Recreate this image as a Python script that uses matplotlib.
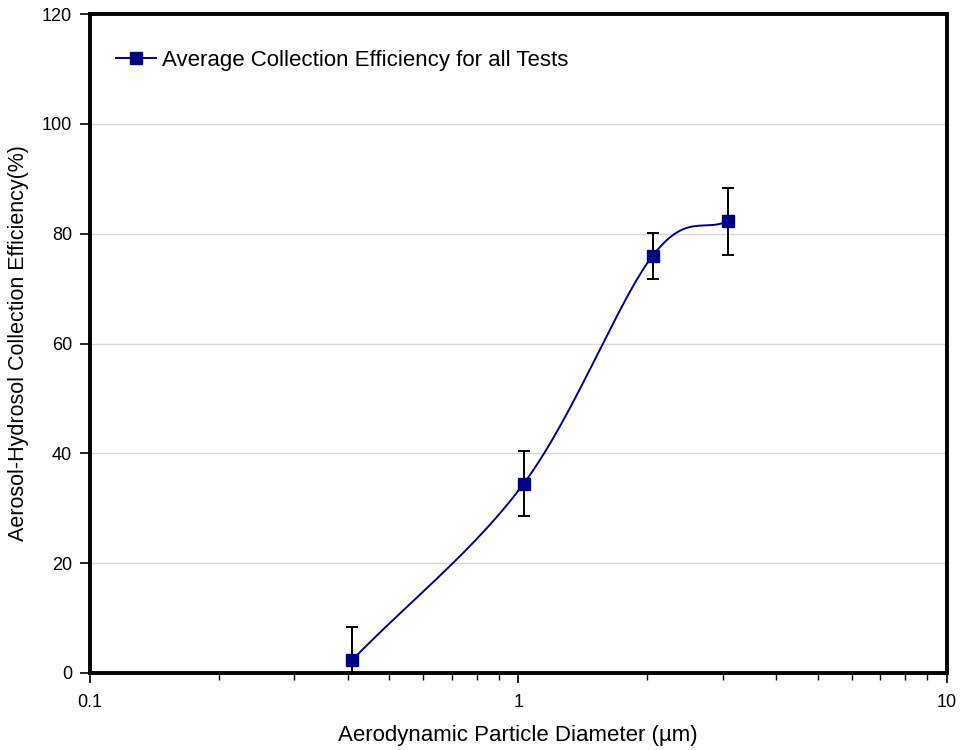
import numpy as np
import matplotlib.pyplot as plt
from matplotlib.ticker import LogLocator, FixedLocator, NullFormatter

plt.rcParams['font.family'] = ['Liberation Sans', 'DejaVu Sans']

# averaged collection efficiency per particle size
diameter_um = [0.41, 1.03, 2.06, 3.09]
efficiency_pct = [2.4, 34.5, 76.0, 82.3]
efficiency_err = [6.0, 6.0, 4.2, 6.1]

NAVY = '#000080'


def smooth_curve(x, y, n=60):
    """Catmull-Rom spline through the points, evaluated in log10(x) space."""
    lx = np.log10(x)
    px = np.concatenate([[2 * lx[0] - lx[1]], lx, [2 * lx[-1] - lx[-2]]])
    py = np.concatenate([[2 * y[0] - y[1]], y, [2 * y[-1] - y[-2]]])
    xs, ys = [], []
    for i in range(1, len(px) - 2):
        t = np.linspace(0, 1, n)
        t2, t3 = t * t, t * t * t
        for p, out in ((px, xs), (py, ys)):
            p0, p1, p2, p3 = p[i - 1], p[i], p[i + 1], p[i + 2]
            out.append(0.5 * (2 * p1 + (-p0 + p2) * t
                              + (2 * p0 - 5 * p1 + 4 * p2 - p3) * t2
                              + (-p0 + 3 * p1 - 3 * p2 + p3) * t3))
    return 10 ** np.concatenate(xs), np.concatenate(ys)


fig = plt.figure(figsize=(9.67, 7.5), dpi=100)
ax = fig.add_axes([0.093, 0.1027, 0.886, 0.8786])

cx, cy = smooth_curve(np.array(diameter_um), np.array(efficiency_pct))
ax.plot(cx, cy, color=NAVY, lw=1.4, zorder=3)
ax.errorbar(diameter_um, efficiency_pct, yerr=efficiency_err, fmt='none',
            ecolor='black', elinewidth=1.4, capsize=4, capthick=1.4, zorder=4)
ax.plot(diameter_um, efficiency_pct, 's', color=NAVY, ms=9, zorder=5)

# legend entry: line with square marker
ax.plot([], [], '-s', color=NAVY, ms=8.5, lw=1.4,
        label='Average Collection Efficiency for all Tests')
leg = ax.legend(loc='center left', frameon=False, fontsize=16,
                handlelength=1.8, handletextpad=0.3, borderpad=0,
                borderaxespad=0, bbox_to_anchor=(0.03, 0.93))

ax.set_xscale('log')
ax.set_xlim(0.1, 10)
ax.set_ylim(0, 120)
ax.xaxis.set_major_locator(FixedLocator([0.1, 1, 10]))
ax.set_xticklabels(['0.1', '1', '10'])
ax.xaxis.set_minor_locator(LogLocator(base=10, subs=np.arange(2, 10)))
ax.xaxis.set_minor_formatter(NullFormatter())
ax.set_yticks(np.arange(0, 121, 20))

ax.yaxis.grid(True, color='#d6d6d6', lw=1.0)
ax.set_axisbelow(True)
for s in ax.spines.values():
    s.set_linewidth(2.8)
    s.set_color('black')

ax.tick_params(axis='both', which='major', direction='out', length=7,
               width=1.2, labelsize=13, colors='black')
ax.tick_params(axis='x', which='minor', direction='out', length=5, width=1.0)
ax.tick_params(axis='x', pad=8)
ax.tick_params(axis='y', pad=6)

ax.set_xlabel('Aerodynamic Particle Diameter (µm)', fontsize=16, labelpad=10)
ax.set_ylabel('Aerosol-Hydrosol Collection Efficiency(%)', fontsize=15.5,
              labelpad=9)

fig.savefig('out.png', dpi=100)
